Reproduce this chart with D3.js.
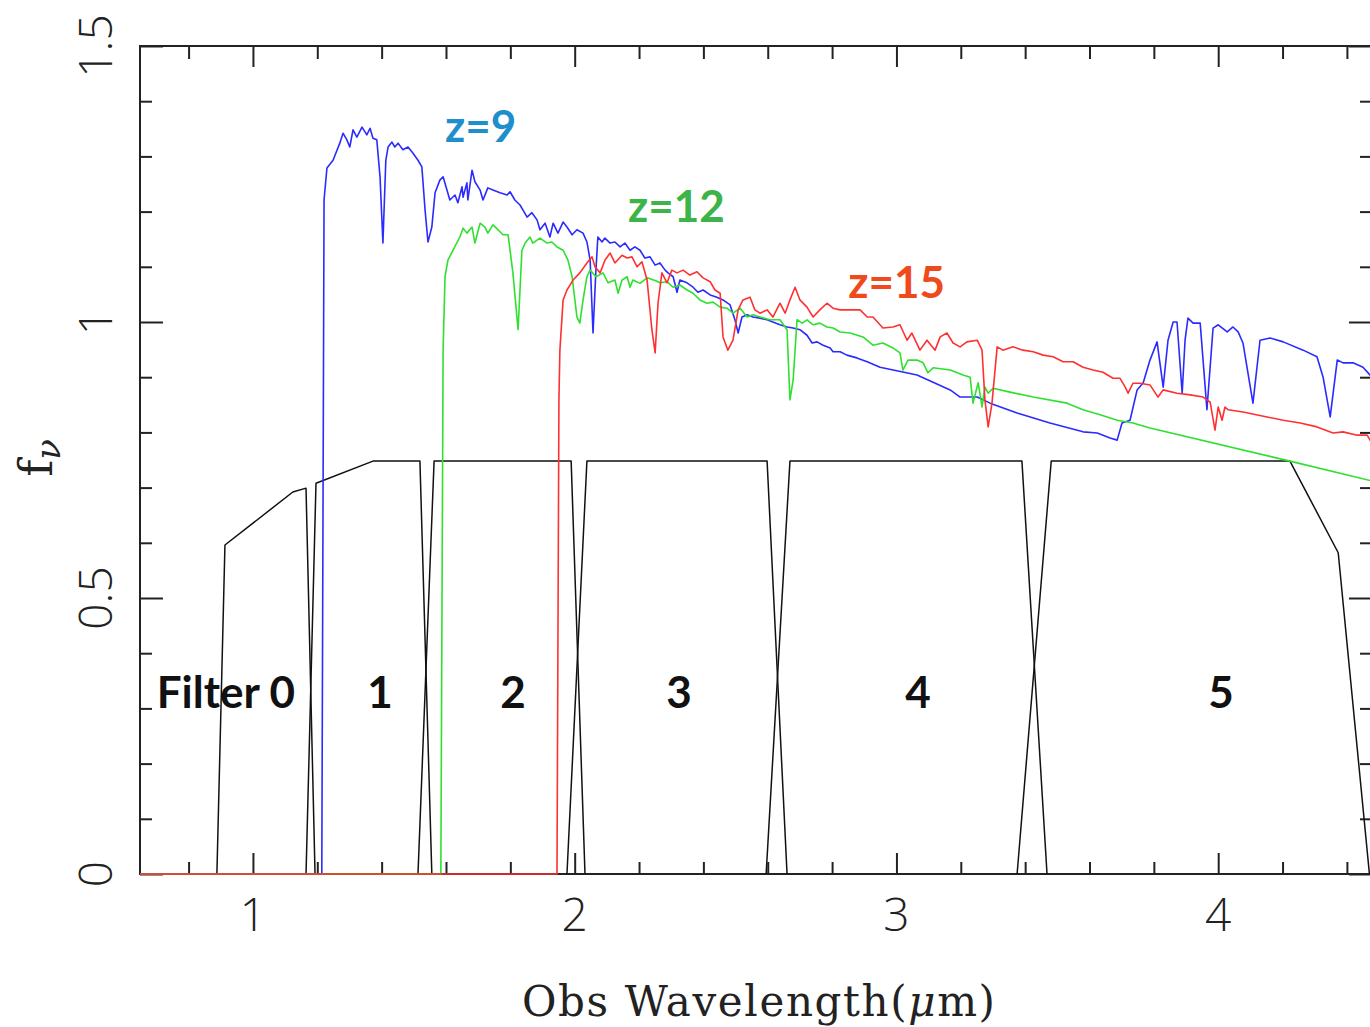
<!DOCTYPE html>
<html>
<head>
<meta charset="utf-8">
<script src="https://cdn.jsdelivr.net/npm/d3@7"></script>
<style>
  html, body { margin: 0; padding: 0; background: #fff; }
  svg { display: block; }
</style>
</head>
<body>
<svg id="chart" width="1370" height="1027"></svg>
<script>
// ---------------- DATA ----------------
// Observed wavelength (micron) vs f_nu for three redshifted spectra
const specZ9 = [
  [0.649,0],[1.210,0],[1.214,0],[1.221,1.221],[1.230,1.279],[1.249,1.293],[1.270,1.324],[1.280,1.342],
  [1.292,1.330],[1.301,1.317],[1.311,1.348],[1.323,1.335],[1.339,1.353],[1.354,1.339],[1.364,1.351],
  [1.373,1.333],[1.385,1.330],[1.395,1.263],[1.404,1.143],[1.413,1.293],[1.420,1.317],[1.432,1.326],
  [1.441,1.317],[1.451,1.324],[1.466,1.312],[1.482,1.317],[1.497,1.306],[1.513,1.293],[1.525,1.281],
  [1.535,1.203],[1.544,1.145],[1.556,1.172],[1.566,1.234],[1.581,1.257],[1.591,1.263],[1.603,1.239],
  [1.612,1.221],[1.628,1.230],[1.637,1.216],[1.650,1.245],[1.653,1.226],[1.665,1.252],[1.668,1.221],
  [1.681,1.275],[1.690,1.254],[1.706,1.239],[1.715,1.221],[1.730,1.243],[1.746,1.239],[1.768,1.234],
  [1.790,1.230],[1.799,1.236],[1.814,1.221],[1.830,1.212],[1.839,1.203],[1.852,1.190],[1.867,1.198],
  [1.883,1.185],[1.892,1.167],[1.908,1.179],[1.923,1.154],[1.933,1.179],[1.948,1.161],[1.964,1.181],
  [1.976,1.172],[1.992,1.158],[2.007,1.167],[2.026,1.161],[2.038,1.145],[2.048,1.112],[2.057,0.980],
  [2.066,1.094],[2.072,1.154],[2.085,1.145],[2.094,1.152],[2.110,1.143],[2.125,1.145],[2.141,1.136],
  [2.156,1.143],[2.172,1.130],[2.187,1.136],[2.203,1.130],[2.218,1.116],[2.234,1.118],[2.250,1.103],
  [2.265,1.107],[2.281,1.094],[2.290,1.089],[2.306,1.082],[2.318,1.054],[2.327,1.076],[2.349,1.071],
  [2.368,1.063],[2.383,1.054],[2.399,1.058],[2.421,1.049],[2.442,1.045],[2.461,1.040],[2.483,1.031],
  [2.498,1.004],[2.508,0.980],[2.520,1.009],[2.536,1.013],[2.554,1.009],[2.576,1.007],[2.598,1.004],
  [2.616,1.000],[2.638,0.995],[2.660,0.991],[2.679,0.989],[2.700,0.986],[2.722,0.976],[2.738,0.962],
  [2.753,0.964],[2.772,0.958],[2.794,0.953],[2.803,0.946],[2.825,0.946],[2.846,0.940],[2.877,0.935],
  [2.909,0.928],[2.949,0.918],[3.064,0.904],[3.167,0.877],[3.198,0.864],[3.251,0.864],[3.291,0.853],
  [3.375,0.835],[3.477,0.817],[3.580,0.801],[3.624,0.799],[3.642,0.795],[3.664,0.790],[3.686,0.786],
  [3.701,0.817],[3.726,0.822],[3.748,0.877],[3.767,0.890],[3.788,0.931],[3.810,0.964],[3.829,0.882],
  [3.844,0.967],[3.860,1.000],[3.872,1.000],[3.888,0.871],[3.897,0.967],[3.906,1.007],[3.922,0.998],
  [3.944,0.998],[3.965,0.841],[3.984,0.989],[4.000,0.995],[4.028,0.982],[4.046,0.991],[4.062,0.982],
  [4.077,0.962],[4.108,0.853],[4.130,0.967],[4.161,0.971],[4.202,0.964],[4.264,0.949],[4.307,0.937],
  [4.326,0.900],[4.348,0.828],[4.370,0.931],[4.388,0.926],[4.419,0.926],[4.450,0.918],[4.478,0.900]
];

const specZ12 = [
  [0.649,0],[1.584,0],[1.591,0.949],[1.597,1.082],[1.606,1.112],[1.622,1.130],[1.643,1.154],[1.653,1.170],
  [1.665,1.161],[1.681,1.172],[1.690,1.143],[1.706,1.179],[1.721,1.172],[1.730,1.161],[1.746,1.176],
  [1.762,1.167],[1.777,1.158],[1.793,1.158],[1.808,1.089],[1.824,0.986],[1.836,1.130],[1.846,1.143],
  [1.861,1.154],[1.870,1.143],[1.892,1.152],[1.914,1.143],[1.929,1.145],[1.945,1.136],[1.964,1.130],
  [1.979,1.112],[1.992,1.082],[2.007,1.009],[2.016,0.998],[2.026,1.040],[2.038,1.082],[2.048,1.094],
  [2.066,1.082],[2.088,1.089],[2.104,1.071],[2.125,1.076],[2.135,1.052],[2.147,1.076],[2.163,1.082],
  [2.172,1.063],[2.181,1.076],[2.203,1.070],[2.225,1.080],[2.250,1.075],[2.265,1.071],[2.287,1.073],
  [2.306,1.063],[2.327,1.067],[2.349,1.058],[2.368,1.052],[2.389,1.040],[2.411,1.034],[2.430,1.036],
  [2.452,1.027],[2.473,1.025],[2.492,1.016],[2.514,1.025],[2.536,1.009],[2.554,1.013],[2.576,1.009],
  [2.607,1.004],[2.638,1.004],[2.660,0.986],[2.669,0.859],[2.679,0.895],[2.691,1.004],[2.707,0.998],
  [2.722,1.004],[2.741,0.995],[2.762,0.998],[2.784,0.991],[2.803,0.989],[2.825,0.982],[2.856,0.980],
  [2.896,0.973],[2.927,0.958],[2.958,0.962],[2.989,0.953],[3.011,0.944],[3.020,0.913],[3.036,0.931],
  [3.064,0.931],[3.083,0.926],[3.098,0.908],[3.114,0.917],[3.167,0.913],[3.207,0.904],[3.229,0.900],
  [3.238,0.853],[3.254,0.890],[3.266,0.846],[3.275,0.882],[3.285,0.871],[3.300,0.880],[3.353,0.873],
  [3.425,0.864],[3.530,0.853],[3.580,0.841],[3.633,0.832],[3.686,0.822],[3.735,0.817],[3.788,0.808],
  [4.223,0.748],[4.478,0.712]
];

const specZ15 = [
  [0.649,0],[1.945,0],[1.951,0.859],[1.954,0.949],[1.964,1.040],[1.976,1.058],[1.995,1.076],[2.016,1.089],
  [2.038,1.107],[2.054,1.118],[2.063,1.100],[2.079,1.089],[2.094,1.112],[2.110,1.125],[2.125,1.107],
  [2.147,1.121],[2.163,1.116],[2.178,1.118],[2.194,1.100],[2.209,1.109],[2.225,1.076],[2.240,0.986],
  [2.250,0.944],[2.259,1.034],[2.271,1.089],[2.287,1.071],[2.302,1.094],[2.318,1.089],[2.337,1.094],
  [2.358,1.085],[2.380,1.091],[2.399,1.080],[2.421,1.073],[2.436,1.058],[2.452,1.052],[2.461,0.973],
  [2.476,0.949],[2.492,0.967],[2.508,1.022],[2.523,1.040],[2.545,1.045],[2.560,1.022],[2.576,1.016],
  [2.598,1.022],[2.616,1.009],[2.638,1.034],[2.654,1.016],[2.669,1.040],[2.685,1.063],[2.700,1.040],
  [2.722,1.027],[2.741,1.009],[2.762,1.022],[2.784,1.034],[2.803,1.025],[2.825,1.022],[2.856,1.022],
  [2.887,1.022],[2.909,1.009],[2.927,1.009],[2.958,0.989],[2.989,0.991],[3.011,0.995],[3.033,0.967],
  [3.048,0.980],[3.073,0.949],[3.095,0.967],[3.120,0.949],[3.136,0.973],[3.157,0.980],[3.176,0.962],
  [3.198,0.955],[3.219,0.964],[3.251,0.967],[3.266,0.949],[3.275,0.859],[3.285,0.810],[3.297,0.853],
  [3.313,0.955],[3.331,0.949],[3.362,0.955],[3.393,0.949],[3.425,0.946],[3.456,0.940],[3.487,0.937],
  [3.518,0.928],[3.549,0.928],[3.580,0.918],[3.611,0.913],[3.642,0.909],[3.673,0.898],[3.695,0.898],
  [3.711,0.882],[3.720,0.871],[3.735,0.889],[3.757,0.889],[3.788,0.886],[3.813,0.864],[3.829,0.877],
  [3.872,0.871],[3.913,0.868],[3.953,0.864],[3.975,0.855],[3.990,0.804],[4.000,0.846],[4.012,0.822],
  [4.021,0.846],[4.031,0.841],[4.077,0.837],[4.152,0.828],[4.202,0.822],[4.255,0.817],[4.307,0.810],
  [4.357,0.799],[4.388,0.801],[4.432,0.795],[4.463,0.795],[4.478,0.780]
];

// Filter transmission curves (scaled)
const filter0 = [[0.888,0],[0.913,0.596],[1.124,0.692],[1.165,0.699],[1.193,0]];
const filter1 = [[1.165,0],[1.196,0.708],[1.373,0.748],[1.519,0.748],[1.556,0]];
const filter2 = [[1.513,0],[1.563,0.748],[1.989,0.748],[2.032,0]];
const filter3 = [[1.976,0],[2.038,0.748],[2.598,0.748],[2.660,0]];
const filter4 = [[2.595,0],[2.669,0.748],[3.390,0.748],[3.468,0]];
const filter5 = [[3.375,0],[3.481,0.748],[4.223,0.748],[4.373,0.582],[4.470,0]];

const filterLabels = ["Filter 0", "1", "2", "3", "4", "5"];
const filterLabelX = [0.916, 1.395, 1.808, 2.324, 3.067, 4.009];
const filterLabelY = 0.300;

const zLabels = ["z=9", "z=12", "z=15"];
const zLabelX = [1.597, 2.166, 2.850];
const zLabelY = [1.326, 1.181, 1.043];

const xMajorTicks = [1, 2, 3, 4];
const xTickLabels = ["1", "2", "3", "4"];
const yMajorTicks = [0, 0.5, 1, 1.5];
const yTickLabels = ["0", "0.5", "1", "1.5"];

const xDomain = [0.649, 4.478];
const yDomain = [0, 1.5];

// ---------------- DRAW ----------------
const svg = d3.select("#chart");
const L = 140, R = 1372, T = 46, B = 874;

const x = d3.scaleLinear().domain(xDomain).range([L, R]);
const y = d3.scaleLinear().domain(yDomain).range([B, T]);

svg.append("rect").attr("width", 1370).attr("height", 1027).attr("fill", "#fff");

svg.append("defs").append("clipPath").attr("id", "clip")
  .append("rect").attr("x", L).attr("y", T - 2).attr("width", R - L).attr("height", B - T + 4);

const xMinor = d3.range(0.8, 4.5, 0.2).map(v => +v.toFixed(2)).filter(v => Math.abs(v - Math.round(v)) > 1e-6);
const yMinor = d3.range(0.1, 1.5, 0.1).map(v => +v.toFixed(2)).filter(v => Math.abs(v * 2 - Math.round(v * 2)) > 1e-6);

function styleAxis(g) {
  g.select(".domain").remove();
  g.selectAll("line").attr("stroke", "#222").attr("stroke-width", 2);
  g.selectAll("text").remove();
}

// bottom & top ticks (inward)
svg.append("g").attr("transform", `translate(0,${B})`)
  .call(d3.axisBottom(x).tickValues(xMajorTicks).tickSizeInner(-21).tickSizeOuter(0)).call(styleAxis);
svg.append("g").attr("transform", `translate(0,${B})`)
  .call(d3.axisBottom(x).tickValues(xMinor).tickSizeInner(-12).tickSizeOuter(0)).call(styleAxis);
svg.append("g").attr("transform", `translate(0,${T})`)
  .call(d3.axisTop(x).tickValues(xMajorTicks).tickSizeInner(-21).tickSizeOuter(0)).call(styleAxis);
svg.append("g").attr("transform", `translate(0,${T})`)
  .call(d3.axisTop(x).tickValues(xMinor).tickSizeInner(-13).tickSizeOuter(0)).call(styleAxis);
// left & right ticks
svg.append("g").attr("transform", `translate(${L},0)`)
  .call(d3.axisLeft(y).tickValues(yMajorTicks).tickSizeInner(-23).tickSizeOuter(0)).call(styleAxis);
svg.append("g").attr("transform", `translate(${L},0)`)
  .call(d3.axisLeft(y).tickValues(yMinor).tickSizeInner(-12).tickSizeOuter(0)).call(styleAxis);
svg.append("g").attr("transform", `translate(${R},0)`)
  .call(d3.axisRight(y).tickValues(yMajorTicks).tickSizeInner(-23).tickSizeOuter(0)).call(styleAxis);
svg.append("g").attr("transform", `translate(${R},0)`)
  .call(d3.axisRight(y).tickValues(yMinor).tickSizeInner(-12).tickSizeOuter(0)).call(styleAxis);

// frame
svg.append("rect").attr("x", L).attr("y", T).attr("width", R - L).attr("height", B - T)
  .attr("fill", "none").attr("stroke", "#222").attr("stroke-width", 2);

const line = d3.line().x(d => x(d[0])).y(d => y(d[1]));
const plot = svg.append("g").attr("clip-path", "url(#clip)");

// filters
[filter0, filter1, filter2, filter3, filter4, filter5].forEach(f => {
  plot.append("path").attr("d", line(f)).attr("fill", "none")
    .attr("stroke", "#111").attr("stroke-width", 1.5).attr("stroke-linejoin", "round");
});

// spectra
const specs = [
  { data: specZ9, color: "#2b2bff" },
  { data: specZ12, color: "#2fe02f" },
  { data: specZ15, color: "#ff3030" }
];
specs.forEach(s => {
  plot.append("path").attr("d", line(s.data)).attr("fill", "none")
    .attr("stroke", s.color).attr("stroke-width", 1.6).attr("stroke-linejoin", "round");
});

// tick labels
const tickFont = "'Open Sans', 'DejaVu Sans', sans-serif";
svg.selectAll(".xtl").data(xMajorTicks).enter().append("text")
  .attr("x", d => x(d)).attr("y", 931)
  .attr("text-anchor", "middle").attr("font-family", tickFont).attr("font-weight", 300)
  .attr("font-size", 46).attr("fill", "#222")
  .text((d, i) => xTickLabels[i]);

svg.selectAll(".ytl").data(yMajorTicks).enter().append("text")
  .attr("transform", d => `translate(112,${y(d)}) rotate(-90)`)
  .attr("text-anchor", "middle").attr("font-family", tickFont).attr("font-weight", 300)
  .attr("font-size", 46).attr("fill", "#222")
  .text((d, i) => yTickLabels[i]);

// axis titles
const xt = svg.append("text").attr("x", 522).attr("y", 1016)
  .attr("font-family", "'DejaVu Serif', 'Liberation Serif', serif").attr("font-size", 42)
  .attr("fill", "#222").attr("textLength", 473).attr("lengthAdjust", "spacing");
xt.append("tspan").text("Obs Wavelength(");
xt.append("tspan").attr("font-style", "italic").text("μ");
xt.append("tspan").text("m)");

const yt = svg.append("text").attr("transform", "translate(52,458) rotate(-90)")
  .attr("text-anchor", "middle").attr("font-family", "'DejaVu Serif', 'Liberation Serif', serif")
  .attr("fill", "#222");
yt.append("tspan").attr("font-size", 46).text("f");
yt.append("tspan").attr("font-size", 34).attr("font-style", "italic").attr("dy", 8).text("ν");

// filter labels
svg.selectAll(".fl").data(filterLabels).enter().append("text")
  .attr("x", (d, i) => x(filterLabelX[i])).attr("y", y(filterLabelY))
  .attr("text-anchor", "middle").attr("font-family", "Lato, 'Open Sans', sans-serif")
  .attr("font-weight", 700).attr("font-size", 44).attr("fill", "#111")
  .text(d => d);

// redshift labels
const zColors = ["#1e8fcc", "#3cb44a", "#f04a1c"];
svg.selectAll(".zl").data(zLabels).enter().append("text")
  .attr("x", (d, i) => x(zLabelX[i])).attr("y", (d, i) => y(zLabelY[i]))
  .attr("font-family", "Lato, 'Open Sans', sans-serif")
  .attr("font-weight", 700).attr("font-size", 44).attr("fill", (d, i) => zColors[i])
  .text(d => d);
</script>
</body>
</html>
